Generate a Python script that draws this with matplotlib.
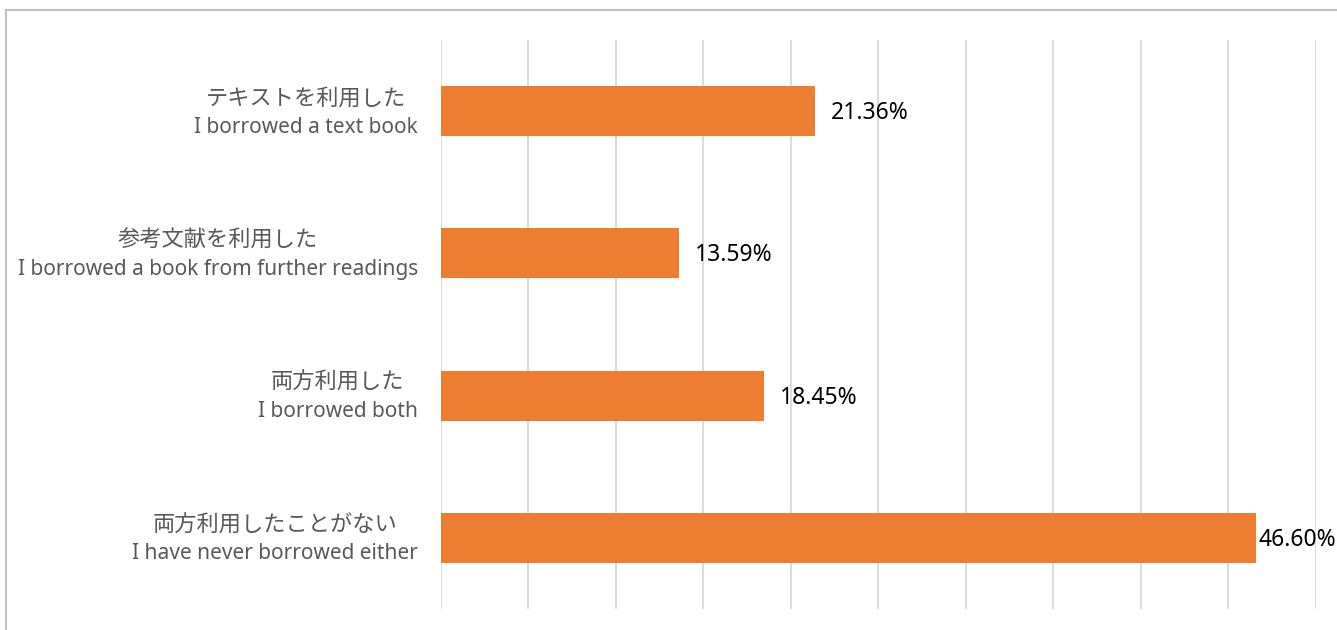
import matplotlib.pyplot as plt
from matplotlib.patches import Rectangle

plt.rcParams['font.family'] = ['Noto Sans CJK JP', 'DejaVu Sans']

labels_ja = ['テキストを利用した', '参考文献を利用した', '両方利用した', '両方利用したことがない']
labels_en = ['I borrowed a text book', 'I borrowed a book from further readings',
             'I borrowed both', 'I have never borrowed either']
values = [21.36, 13.59, 18.45, 46.60]

fig = plt.figure(figsize=(13.37, 6.30), dpi=100)
fig.patches.append(Rectangle((6 / 1337, -0.1), 1.2, 1 - 10 / 630 + 0.1,
                             transform=fig.transFigure, fill=False,
                             edgecolor='#BFBFBF', linewidth=1.5))

ax = fig.add_axes([441 / 1337, 21 / 630, (1315.5 - 441) / 1337, (609 - 40) / 630])
y = list(range(len(values)))
ax.barh(y, [v / 100 for v in values], height=0.35, color='#ED7D31', zorder=3)
ax.set_xlim(0, 0.5)
ax.set_ylim(len(values) - 0.5, -0.5)
ax.set_xticks([i * 0.05 for i in range(11)])
ax.set_xticklabels([])
ax.set_yticks([])
ax.tick_params(length=0)
ax.grid(axis='x', color='#D9D9D9', linewidth=1.3, zorder=0)
for s in ax.spines.values():
    s.set_visible(False)

en_texts = []
for i, v in enumerate(values):
    pad = 16 if v < 40 else 2
    ax.annotate(f'{v:.2f}%', (v / 100, i), xytext=(pad * 0.72, -2 * 0.72),
                textcoords='offset points', va='center', ha='left',
                fontsize=16.5, color='#000000', family=['Noto Sans', 'DejaVu Sans'])
    t = ax.annotate(labels_en[i], (0, i), xytext=(-23 * 0.72, -16 * 0.72),
                    textcoords='offset points', va='center', ha='right',
                    fontsize=15, color='#595959', family=['Noto Sans', 'DejaVu Sans'])
    en_texts.append(t)

# Japanese line centred over the English line, like the original's centred two-line label
fig.canvas.draw()
r = fig.canvas.get_renderer()
for i, t in enumerate(en_texts):
    bb = t.get_window_extent(r)
    cx = ax.transData.inverted().transform(((bb.x0 + bb.x1) / 2, 0))[0]
    ax.annotate(labels_ja[i], (cx, i), xytext=(0, 13 * 0.72),
                textcoords='offset points', va='center', ha='center',
                fontsize=16, color='#595959', annotation_clip=False)

fig.savefig('out.png', dpi=100)
